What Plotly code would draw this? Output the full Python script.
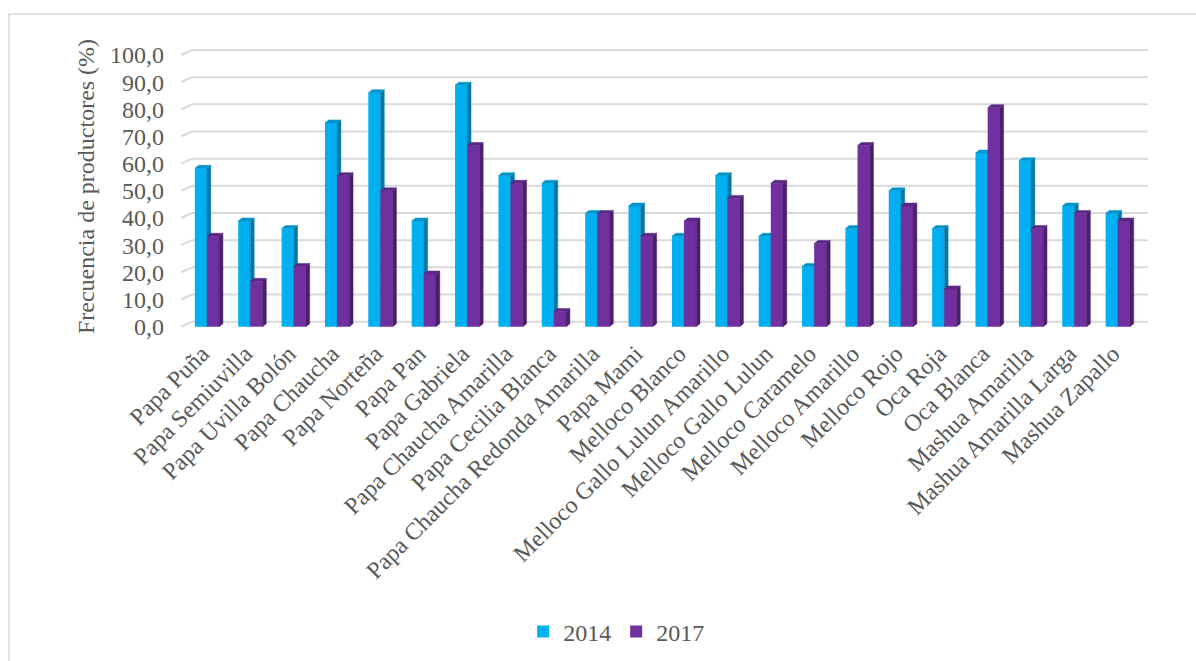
import plotly.graph_objects as go

# ---- data -------------------------------------------------------------
categories = [
    "Papa Puña", "Papa Semiuvilla", "Papa Uvilla Bolón", "Papa Chaucha",
    "Papa Norteña", "Papa Pan", "Papa Gabriela", "Papa Chaucha Amarilla",
    "Papa Cecilia Blanca", "Papa Chaucha Redonda Amarilla", "Papa Mami",
    "Melloco Blanco", "Melloco Gallo Lulun Amarillo", "Melloco Gallo Lulun",
    "Melloco Caramelo", "Melloco Amarillo", "Melloco Rojo", "Oca Roja",
    "Oca Blanca", "Mashua Amarilla", "Mashua Amarilla Larga", "Mashua Zapallo",
]
freq_2014 = [58.3, 38.9, 36.1, 75.0, 86.1, 38.9, 88.9, 55.6, 52.8, 41.7, 44.4,
             33.3, 55.6, 33.3, 22.2, 36.1, 50.0, 36.1, 63.9, 61.1, 44.4, 41.7]
freq_2017 = [33.3, 16.7, 22.2, 55.6, 50.0, 19.4, 66.7, 52.8, 5.6, 41.7, 33.3,
             38.9, 47.2, 52.8, 30.6, 66.7, 44.4, 13.9, 80.6, 36.1, 41.7, 38.9]
years = ["2014", "2017"]
y_ticks = [0, 10, 20, 30, 40, 50, 60, 70, 80, 90, 100]

# ---- styling ----------------------------------------------------------
FONT = "Liberation Serif, Times New Roman, serif"
TXT = "#595959"
GRID = "#D9D9D9"
FS = 24
face_colors = {
    "2014": ("#00B0F0", "#0079A8", "#0093CB"),   # front, side, top
    "2017": ("#7030A0", "#4A1F6B", "#5B2784"),
}

# figure geometry (pixels)
W, H = 1196, 661
L_M, R_M, T_M, B_M = 181, 48, 45, 333
plot_w = W - L_M - R_M
plot_h = H - T_M - B_M

X_RANGE = [-0.599, 21.697]
Y_RANGE = [-0.48, 103.68]
px_x = plot_w / (X_RANGE[1] - X_RANGE[0])
px_y = plot_h / (Y_RANGE[1] - Y_RANGE[0])

BAR_W = 0.28                   # width of each column (category units)
SIDE_DX = 3.8 / px_x           # column depth, horizontal component
SIDE_DY = 3.0 / px_y           # column depth, vertical component
WALL_DX = 11.0 / plot_w        # depth of the chart floor (paper units)
WALL_DY = 5.0 / px_y           # vertical shift of the back wall

offsets = {"2014": -BAR_W, "2017": 0.0}
axes = {"2014": "y", "2017": "y2"}
series = {"2014": freq_2014, "2017": freq_2017}

fig = go.Figure()


def faces(vals, off):
    sx, sy, tx, ty = [], [], [], []
    for i, v in enumerate(vals):
        xl = i + off
        xr = xl + BAR_W
        sx += [xr, xr + SIDE_DX, xr + SIDE_DX, xr, xr, None]
        sy += [0, SIDE_DY, v + SIDE_DY, v, 0, None]
        tx += [xl, xl + SIDE_DX, xr + SIDE_DX, xr, xl, None]
        ty += [v, v + SIDE_DY, v + SIDE_DY, v, v, None]
    return sx, sy, tx, ty


for yr in years:
    front, side, top = face_colors[yr]
    vals = series[yr]
    ya = axes[yr]
    fig.add_trace(go.Bar(
        x=list(range(len(categories))), y=vals, name=yr,
        width=BAR_W, offset=offsets[yr],
        marker=dict(color=front, line=dict(width=0)),
        yaxis=ya, hoverinfo="skip",
    ))
    sx, sy, tx, ty = faces(vals, offsets[yr])
    fig.add_trace(go.Scatter(
        x=sx, y=sy, mode="lines", fill="toself", fillcolor=side,
        line=dict(color=side, width=0.5), yaxis=ya,
        showlegend=False, hoverinfo="skip",
    ))
    fig.add_trace(go.Scatter(
        x=tx, y=ty, mode="lines", fill="toself", fillcolor=top,
        line=dict(color=top, width=0.5), yaxis=ya,
        showlegend=False, hoverinfo="skip",
    ))

# back-wall gridlines with the slanted floor/side-wall segment
shapes = []
for t in y_ticks:
    shapes.append(dict(type="line", xref="paper", yref="y", layer="below",
                       x0=WALL_DX, x1=1, y0=t + WALL_DY, y1=t + WALL_DY,
                       line=dict(color=GRID, width=2)))
    shapes.append(dict(type="line", xref="paper", yref="y", layer="below",
                       x0=0, x1=WALL_DX, y0=t, y1=t + WALL_DY,
                       line=dict(color=GRID, width=2)))

# chart border
shapes.append(dict(type="rect", xref="paper", yref="paper", layer="below",
                   x0=(9 - L_M) / plot_w, x1=(1210 - L_M) / plot_w,
                   y0=-(680 - (H - B_M)) / plot_h, y1=((H - B_M) - 14) / plot_h,
                   line=dict(color=GRID, width=1.5), fillcolor="rgba(0,0,0,0)"))

fig.update_layout(
    width=W, height=H,
    margin=dict(l=L_M, r=R_M, t=T_M, b=B_M),
    paper_bgcolor="white", plot_bgcolor="white",
    separators=",.",
    font=dict(family=FONT, color=TXT, size=FS),
    barmode="overlay",
    shapes=shapes,
    xaxis=dict(
        range=X_RANGE, tickmode="array",
        tickvals=list(range(len(categories))), ticktext=categories,
        tickangle=-45, showgrid=False, zeroline=False, showline=False,
        ticks="", ticklabelstandoff=6, ticklabelshift=-5,
        tickfont=dict(size=FS, color=TXT, family=FONT),
    ),
    yaxis=dict(
        range=Y_RANGE, tickmode="array", tickvals=y_ticks, tickformat=".1f",
        showgrid=False, zeroline=False, showline=False, ticks="",
        ticklabelstandoff=16,
        tickfont=dict(size=FS, color=TXT, family=FONT),
        title=dict(text="Frecuencia de productores (%)", standoff=8,
                   font=dict(size=FS, color=TXT, family=FONT)),
    ),
    yaxis2=dict(range=Y_RANGE, overlaying="y", visible=False),
    legend=dict(orientation="h", x=0.45, xanchor="center",
                yref="container", y=1 - 632 / H, yanchor="middle",
                font=dict(size=FS, color=TXT, family=FONT),
                itemwidth=30, traceorder="normal"),
)

fig.write_html("out.html")
